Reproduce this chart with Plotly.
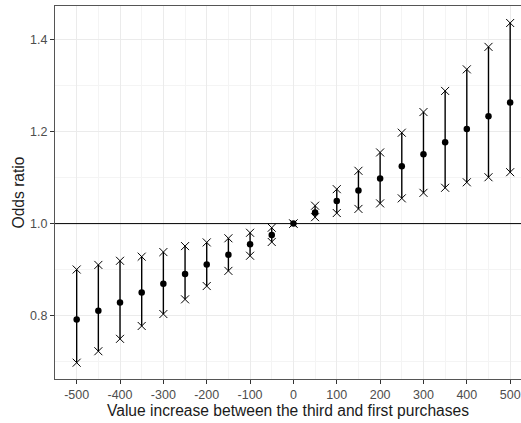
import plotly.graph_objects as go

# Value increase (x) and odds ratio estimates with confidence bounds
value_increase = [-500, -450, -400, -350, -300, -250, -200, -150, -100, -50,
                  0, 50, 100, 150, 200, 250, 300, 350, 400, 450, 500]
odds_ratio = [0.791, 0.810, 0.828, 0.850, 0.869, 0.890, 0.911, 0.932, 0.955, 0.975,
              1.000, 1.024, 1.049, 1.072, 1.098, 1.125, 1.151, 1.177, 1.206, 1.234, 1.264]
ci_upper = [0.900, 0.910, 0.919, 0.928, 0.938, 0.951, 0.959, 0.968, 0.980, 0.991,
            1.000, 1.039, 1.075, 1.115, 1.155, 1.198, 1.243, 1.289, 1.336, 1.385, 1.437]
ci_lower = [0.697, 0.722, 0.749, 0.777, 0.803, 0.835, 0.864, 0.897, 0.930, 0.960,
            1.000, 1.014, 1.023, 1.032, 1.044, 1.055, 1.067, 1.078, 1.090, 1.101, 1.112]

x_ticks = [-500, -400, -300, -200, -100, 0, 100, 200, 300, 400, 500]
y_ticks = [0.8, 1.0, 1.2, 1.4]

# vertical segments from lower to upper bound
seg_x, seg_y = [], []
for x, lo, hi in zip(value_increase, ci_lower, ci_upper):
    seg_x += [x, x, None]
    seg_y += [lo, hi, None]

fig = go.Figure()
fig.add_trace(go.Scatter(x=seg_x, y=seg_y, mode="lines",
                         line=dict(color="black", width=1.4),
                         hoverinfo="skip", showlegend=False))
fig.add_trace(go.Scatter(x=value_increase + value_increase, y=ci_upper + ci_lower,
                         mode="markers",
                         marker=dict(symbol="x-thin", size=8,
                                     line=dict(color="black", width=1)),
                         showlegend=False))
fig.add_trace(go.Scatter(x=value_increase, y=odds_ratio, mode="markers",
                         marker=dict(symbol="circle", size=6.5, color="black"),
                         showlegend=False))

fig.add_hline(y=1.0, line=dict(color="black", width=1))

axis_font = dict(family="Liberation Sans, Arial, sans-serif", size=12.5, color="#4d4d4d")
title_font = dict(family="Liberation Sans, Arial, sans-serif", size=15.6, color="#1a1a1a")

fig.update_xaxes(range=[-550, 525], tickvals=x_ticks, ticktext=[str(v) for v in x_ticks],
                 tickfont=axis_font, showgrid=True, gridcolor="#ebebeb", gridwidth=1,
                 minor=dict(dtick=50, tick0=0, showgrid=True, gridcolor="#f4f4f4",
                            gridwidth=1),
                 ticks="outside", ticklen=4, tickcolor="#333333", tickwidth=1,
                 showline=True, linecolor="#555555", linewidth=1, mirror=True,
                 zeroline=False,
                 title=dict(text="Value increase between the third and first purchases",
                            font=title_font, standoff=2))
fig.update_yaxes(range=[0.6615, 1.474], tickvals=y_ticks,
                 ticktext=["0.8", "1.0", "1.2", "1.4"],
                 tickfont=axis_font, showgrid=True, gridcolor="#ebebeb", gridwidth=1,
                 minor=dict(dtick=0.1, tick0=0.7, showgrid=True, gridcolor="#f4f4f4",
                            gridwidth=1),
                 ticks="outside", ticklen=4, tickcolor="#333333", tickwidth=1,
                 showline=True, linecolor="#555555", linewidth=1, mirror=False,
                 zeroline=False,
                 title=dict(text="Odds ratio", font=title_font, standoff=1))

fig.update_layout(width=521, height=423,
                  margin=dict(l=55, r=0, t=6, b=44),
                  plot_bgcolor="white", paper_bgcolor="white",
                  showlegend=False)

fig.write_html("out.html")
